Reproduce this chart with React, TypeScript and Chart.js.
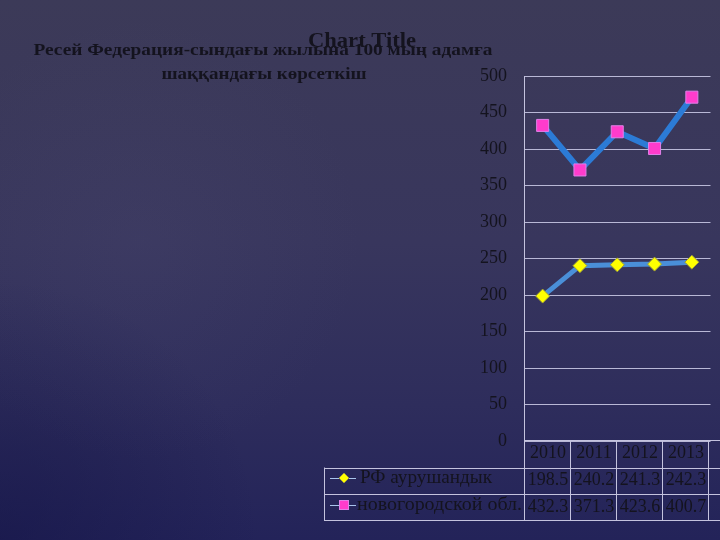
import React, { useEffect, useRef } from "react";
import { Chart, registerables } from "chart.js";

Chart.register(...registerables);

const years = ["2010", "2011", "2012", "2013", "2014"];
const rfValues = [198.5, 240.2, 241.3, 242.3, 245.0];
const novValues = [432.3, 371.3, 423.6, 400.7, 471.0];
const seriesNames = ["РФ аурушандык", "новогородской обл."];
const chartTitle = "Chart Title";
const slideTitle1 = "Ресей Федерация-сындағы жылына 100 мың адамға";
const slideTitle2 = "шаққандағы көрсеткіш";

const SERIF = "'Liberation Serif', 'DejaVu Serif', serif";
const TEXT = "#14131e";
const LINE = "#c4c3de";

function fitText(
  ctx: CanvasRenderingContext2D,
  text: string,
  x: number,
  baseline: number,
  width: number,
  font: string,
  align: "center" | "left"
) {
  ctx.save();
  ctx.font = font;
  ctx.fillStyle = TEXT;
  ctx.textAlign = align;
  ctx.textBaseline = "alphabetic";
  const w = ctx.measureText(text).width;
  ctx.translate(x, baseline);
  ctx.scale(width / w, 1);
  ctx.fillText(text, 0, 0);
  ctx.restore();
}

const bgPlugin = {
  id: "bgPlugin",
  beforeDraw(chart: any) {
    const { ctx, width, height } = chart;
    ctx.save();
    const g = ctx.createLinearGradient(0, 0, 0, height);
    g.addColorStop(0, "#3c3a58");
    g.addColorStop(0.45, "#38365d");
    g.addColorStop(0.75, "#2e2d5c");
    g.addColorStop(1, "#232359");
    ctx.fillStyle = g;
    ctx.fillRect(0, 0, width, height);
    const r = ctx.createRadialGradient(0, height, 0, 0, height, 260);
    r.addColorStop(0, "rgba(20,20,70,0.55)");
    r.addColorStop(1, "rgba(20,20,70,0)");
    ctx.fillStyle = r;
    ctx.fillRect(0, 0, width, height);
    const r2 = ctx.createRadialGradient(140, 240, 0, 140, 240, 220);
    r2.addColorStop(0, "rgba(80,78,120,0.18)");
    r2.addColorStop(1, "rgba(80,78,120,0)");
    ctx.fillStyle = r2;
    ctx.fillRect(0, 0, width, height);
    ctx.restore();
  },
};

function drawDiamond(ctx: CanvasRenderingContext2D, x: number, y: number, r: number) {
  ctx.beginPath();
  ctx.moveTo(x, y - r);
  ctx.lineTo(x + r, y);
  ctx.lineTo(x, y + r);
  ctx.lineTo(x - r, y);
  ctx.closePath();
  ctx.fillStyle = "#ffff00";
  ctx.fill();
  ctx.strokeStyle = "#9a9a3a";
  ctx.lineWidth = 1;
  ctx.stroke();
}

function drawSquare(ctx: CanvasRenderingContext2D, x: number, y: number, s: number) {
  ctx.fillStyle = "#ff3ccc";
  ctx.fillRect(x - s / 2, y - s / 2, s, s);
  ctx.strokeStyle = "#e080e8";
  ctx.lineWidth = 1;
  ctx.strokeRect(x - s / 2, y - s / 2, s, s);
}

const decoPlugin = {
  id: "decoPlugin",
  afterDraw(chart: any) {
    const { ctx, chartArea, width } = chart;
    const left = chartArea.left;
    const top = chartArea.bottom - 1;
    const rowY = [top, top + 27.5, top + 54, top + 80];
    const colW = 46;
    const legendLeft = 324;

    // titles
    fitText(ctx, slideTitle1, 263, 55, 459, `bold 17px ${SERIF}`, "center");
    fitText(ctx, slideTitle2, 264, 79, 205, `bold 17px ${SERIF}`, "center");
    fitText(ctx, chartTitle, 362, 46.5, 108, `bold 20px ${SERIF}`, "center");

    // data table lines
    ctx.save();
    ctx.strokeStyle = LINE;
    ctx.lineWidth = 1;
    ctx.beginPath();
    ctx.moveTo(left, rowY[0] + 0.5);
    ctx.lineTo(width, rowY[0] + 0.5);
    for (let i = 1; i < rowY.length; i++) {
      ctx.moveTo(legendLeft, Math.round(rowY[i]) + 0.5);
      ctx.lineTo(width, Math.round(rowY[i]) + 0.5);
    }
    ctx.moveTo(legendLeft + 0.5, rowY[1]);
    ctx.lineTo(legendLeft + 0.5, rowY[3]);
    for (let i = 0; i <= years.length; i++) {
      const x = Math.round(left + i * colW) + 0.5;
      ctx.moveTo(x, rowY[0]);
      ctx.lineTo(x, rowY[3]);
    }
    ctx.stroke();
    ctx.restore();

    // header and values
    ctx.save();
    ctx.font = `18px ${SERIF}`;
    ctx.fillStyle = TEXT;
    ctx.textAlign = "center";
    ctx.textBaseline = "alphabetic";
    years.forEach((yr, i) => {
      const x0 = left + i * colW;
      if (x0 + colW > width) return;
      const cx = x0 + colW / 2 + 1;
      ctx.fillText(yr, cx, 458);
      ctx.fillText(rfValues[i].toFixed(1), cx, 485);
      ctx.fillText(novValues[i].toFixed(1), cx, 512);
    });
    ctx.restore();

    // legend keys
    const ky1 = 478;
    const ky2 = 505;
    ctx.save();
    ctx.strokeStyle = "#a9c4ec";
    ctx.lineWidth = 1;
    ctx.beginPath();
    ctx.moveTo(330, ky1 + 0.5);
    ctx.lineTo(356, ky1 + 0.5);
    ctx.moveTo(330, ky2 + 0.5);
    ctx.lineTo(356, ky2 + 0.5);
    ctx.stroke();
    drawDiamond(ctx, 344, ky1, 5);
    drawSquare(ctx, 344, ky2, 9);
    ctx.restore();

    fitText(ctx, seriesNames[0], 360, 483, 132, `18px ${SERIF}`, "left");
    fitText(ctx, seriesNames[1], 357, 510, 165, `18px ${SERIF}`, "left");
  },
};

export default function App() {
  const ref = useRef<HTMLCanvasElement | null>(null);

  useEffect(() => {
    document.body.style.margin = "0";
    const canvas = ref.current;
    if (!canvas) return;
    const chart = new Chart(canvas, {
      type: "line",
      data: {
        labels: years,
        datasets: [
          {
            label: seriesNames[0],
            data: rfValues,
            borderColor: "#4a8fd8",
            borderWidth: 5,
            pointStyle: "rectRot",
            pointRadius: 7,
            pointBackgroundColor: "#ffff00",
            pointBorderColor: "#9a9a3a",
            pointBorderWidth: 1,
            tension: 0,
          },
          {
            label: seriesNames[1],
            data: novValues,
            borderColor: "#2c7bd6",
            borderWidth: 6,
            pointStyle: "rect",
            pointRadius: 8.5,
            pointBackgroundColor: "#ff3ccc",
            pointBorderColor: "#e080e8",
            pointBorderWidth: 1,
            tension: 0,
          },
        ],
      },
      options: {
        animation: false,
        responsive: false,
        layout: { padding: { left: 0, right: 9, top: 76, bottom: 99 } },
        plugins: {
          legend: { display: false },
          title: { display: false },
          tooltip: { enabled: false },
        },
        scales: {
          x: { display: false, offset: true },
          y: {
            min: 0,
            max: 500,
            ticks: {
              stepSize: 50,
              color: TEXT,
              font: { family: SERIF, size: 18 },
              padding: 17,
            },
            grid: { color: "#b9b8d6", drawTicks: false, lineWidth: 1 },
            border: { color: LINE, width: 1 },
            afterFit: (s: any) => {
              s.width = 524;
            },
          },
        },
      },
      plugins: [bgPlugin, decoPlugin],
    } as any);
    return () => chart.destroy();
  }, []);

  return (
    <div style={{ position: "fixed", left: 0, top: 0, width: 720, height: 540 }}>
      <canvas ref={ref} width={720} height={540} style={{ display: "block" }} />
    </div>
  );
}
